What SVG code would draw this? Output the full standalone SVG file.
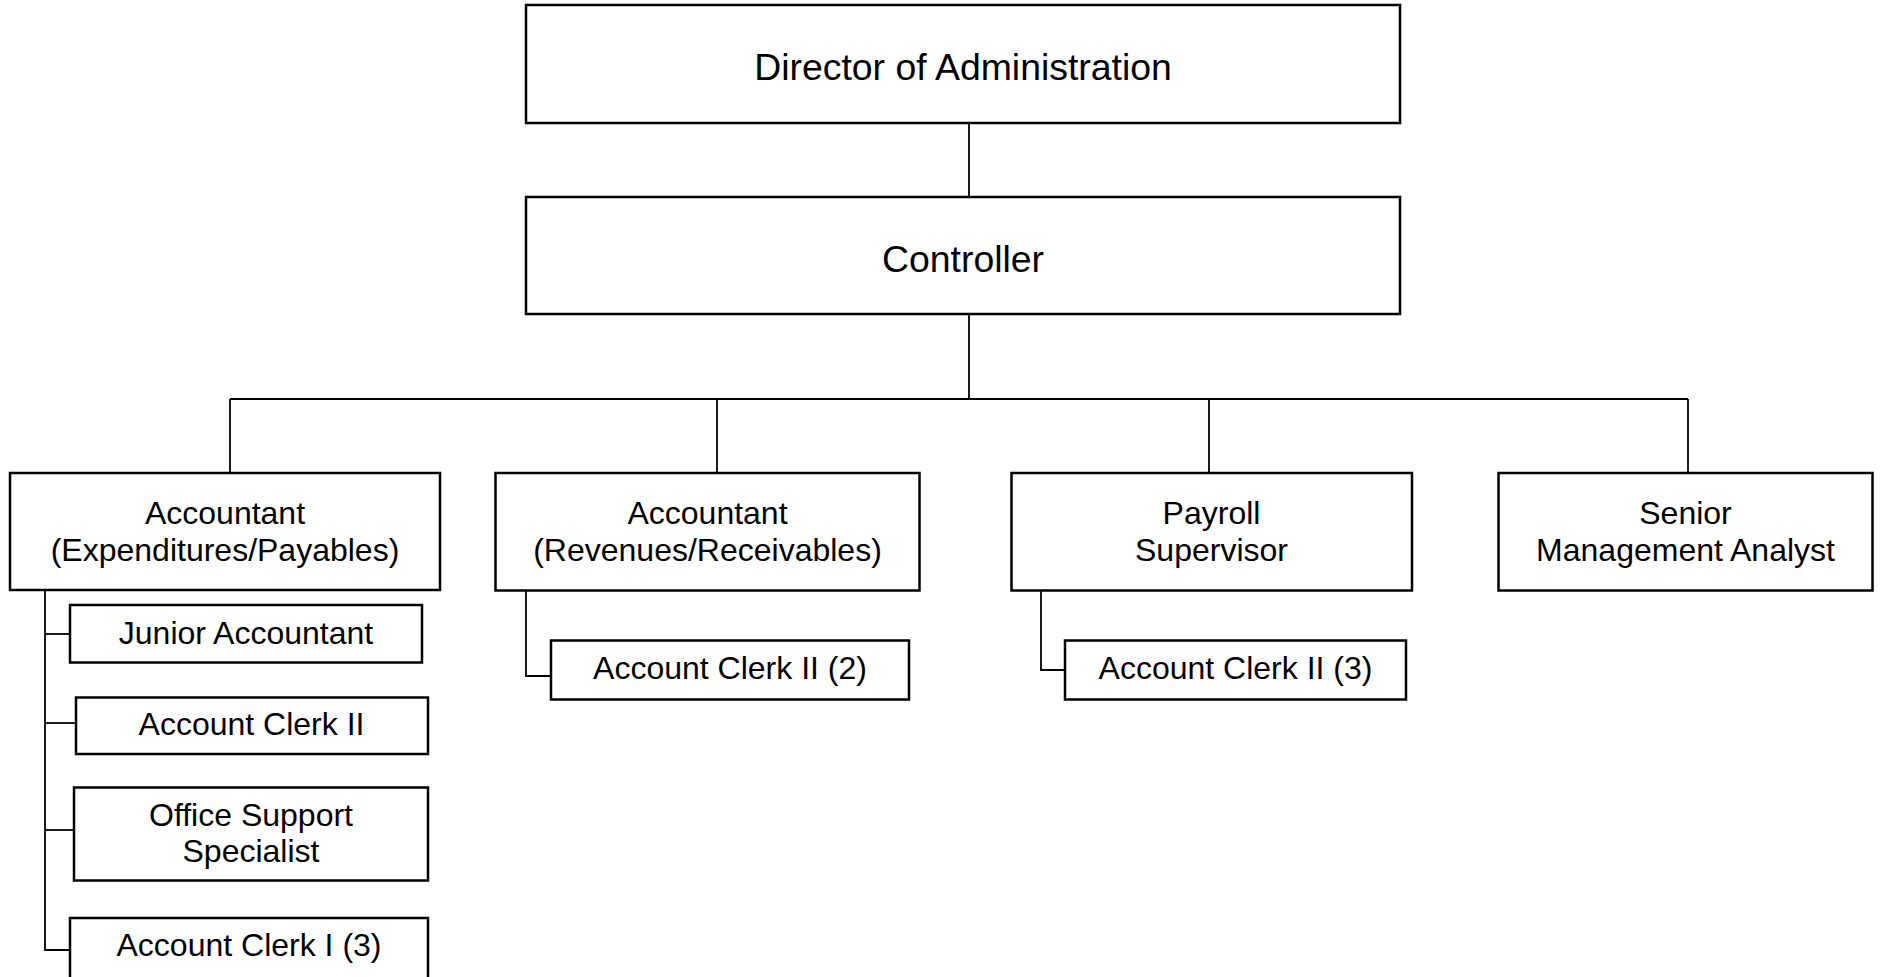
<svg xmlns="http://www.w3.org/2000/svg" width="1881" height="977" viewBox="0 0 1881 977">
<style>
.box{fill:#fff;stroke:#000;stroke-width:2.5}
.c{fill:none;stroke:#000;stroke-width:1.8}
text{font-family:"Liberation Sans",Arial,sans-serif;fill:#000;text-anchor:middle}
.big{font-size:37.4px}
.t{font-size:32px}
</style>
<rect width="1881" height="977" fill="#fff"/>
<g id="connectors">
<path class="c" d="M969,123 V197"/>
<path class="c" d="M969,314 V399"/>
<path class="c" d="M230,399 H1688"/>
<path class="c" d="M230,399 V473"/>
<path class="c" d="M717,399 V473"/>
<path class="c" d="M1209,399 V473"/>
<path class="c" d="M1688,399 V473"/>
<path class="c" d="M45,590 V950 H70"/>
<path class="c" d="M45,634 H70"/>
<path class="c" d="M45,723 H76"/>
<path class="c" d="M45,830 H74"/>
<path class="c" d="M526,591 V676 H551"/>
<path class="c" d="M1041,591 V670 H1065"/>
</g>
<g id="director">
<rect class="box" x="526" y="5" width="874" height="118"/>
<text class="big" x="963" y="80">Director of Administration</text>
</g>
<g id="controller">
<rect class="box" x="526" y="197" width="874" height="117"/>
<text class="big" x="963" y="272">Controller</text>
</g>
<g id="acct-exp">
<rect class="box" x="10" y="473" width="430" height="117"/>
<text class="t" x="225" y="523.5">Accountant</text>
<text class="t" x="225" y="560.5">(Expenditures/Payables)</text>
</g>
<g id="acct-rev">
<rect class="box" x="495.5" y="473" width="424" height="117.5"/>
<text class="t" x="707.5" y="523.5">Accountant</text>
<text class="t" x="707.5" y="560.5">(Revenues/Receivables)</text>
</g>
<g id="payroll">
<rect class="box" x="1011.5" y="473" width="400.5" height="117.5"/>
<text class="t" x="1211.5" y="523.5">Payroll</text>
<text class="t" x="1211.5" y="560.5">Supervisor</text>
</g>
<g id="sma">
<rect class="box" x="1498.5" y="473" width="374" height="117.5"/>
<text class="t" x="1685.5" y="523.5">Senior</text>
<text class="t" x="1685.5" y="560.5">Management Analyst</text>
</g>
<g id="junior">
<rect class="box" x="70" y="605" width="352" height="57.5"/>
<text class="t" x="246" y="644">Junior Accountant</text>
</g>
<g id="clerk2">
<rect class="box" x="76" y="697.5" width="352" height="56.5"/>
<text class="t" x="251.5" y="735">Account Clerk II</text>
</g>
<g id="office">
<rect class="box" x="74" y="787.5" width="354" height="93"/>
<text class="t" x="251" y="825.5">Office Support</text>
<text class="t" x="251" y="862">Specialist</text>
</g>
<g id="clerk1">
<rect class="box" x="70" y="918" width="358" height="80"/>
<text class="t" x="249" y="955.5">Account Clerk I (3)</text>
</g>
<g id="clerk2-2">
<rect class="box" x="551" y="640.5" width="358" height="59"/>
<text class="t" x="730" y="678.5">Account Clerk II (2)</text>
</g>
<g id="clerk2-3">
<rect class="box" x="1065" y="640.5" width="341" height="59"/>
<text class="t" x="1235.5" y="678.5">Account Clerk II (3)</text>
</g>
</svg>
